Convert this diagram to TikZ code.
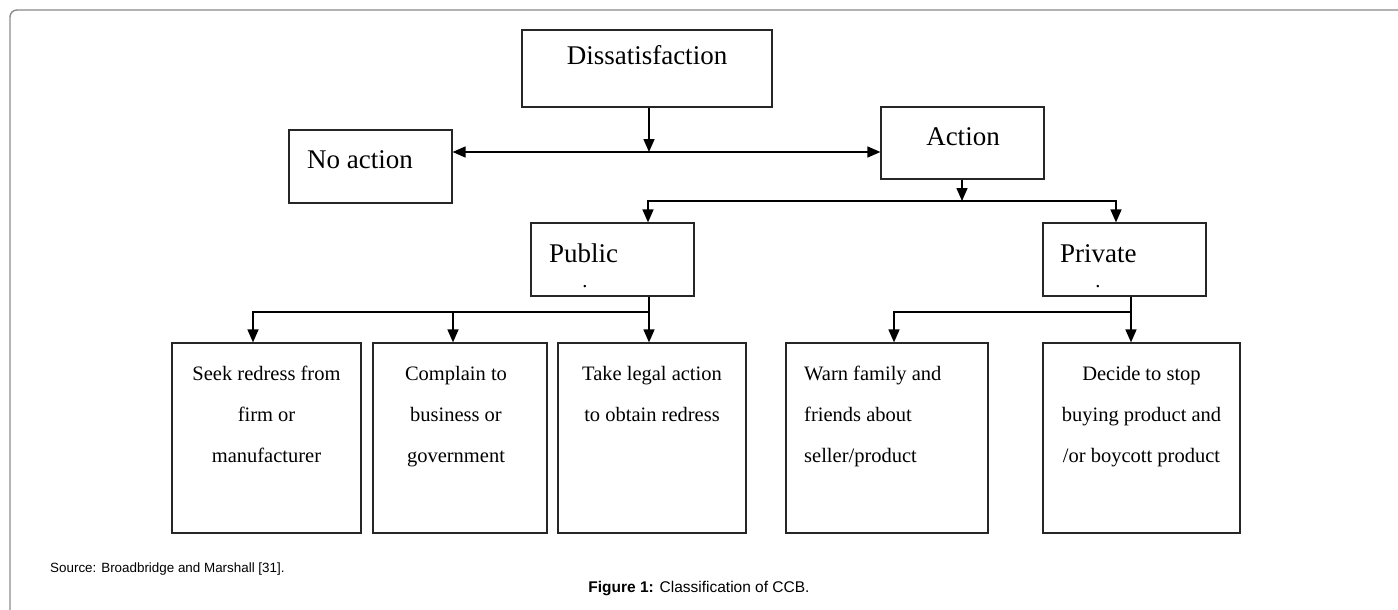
\documentclass[tikz,border=0pt]{standalone}
\usepackage{fontspec}
\setmainfont{Liberation Serif}
\newfontfamily\capfont{Liberation Sans}
\usetikzlibrary{arrows.meta}
\begin{document}
\begin{tikzpicture}[x=1pt,y=-1pt,
  box/.style={draw=black!85, line width=1.2pt, inner sep=0pt},
  big/.style={font=\fontsize{27}{32}\selectfont, inner sep=0pt},
  small/.style={font=\fontsize{20.5}{41}\selectfont, inner sep=0pt, align=center},
  conn/.style={line width=1.6pt},
  arr/.style={conn, -{Triangle[width=11pt,length=13pt]}},
  dbl/.style={conn, {Triangle[width=11pt,length=13pt]}-{Triangle[width=11pt,length=13pt]}},
  captxt/.style={font=\capfont\fontsize{13.4}{16}\selectfont, inner sep=0pt},
  figtxt/.style={font=\capfont\fontsize{15.5}{18}\selectfont, inner sep=0pt}
]
\useasboundingbox (0,0) rectangle (1398,610);
\fill[white] (0,0) rectangle (1398,610);
% frame
\draw[black!30, line width=1.8pt] (17,10) -- (1405,10);
\draw[black!45, line width=1.4pt] (10,615) -- (10,17) arc[start angle=180, end angle=90, radius=7pt];

% top level
\node[box, minimum width=250pt, minimum height=77pt] (diss) at (647,68.5) {};
\node[big, anchor=base] (dissT) at (647,65) {Dissatisfaction};
\node[box, minimum width=163pt, minimum height=73pt] (noact) at (370.5,166.5) {};
\node[big, anchor=base west] (noactT) at (307,168) {No action};
\node[box, minimum width=163pt, minimum height=72pt] (act) at (962.5,143) {};
\node[big, anchor=base] (actT) at (963,145) {Action};

% second level
\node[box, minimum width=163pt, minimum height=73pt] (pub) at (612.5,259.5) {};
\node[big, anchor=base west] (pubT) at (549,262) {Public};
\node[small, anchor=base] (pubD) at (585,287) {.};
\node[box, minimum width=163pt, minimum height=73pt] (priv) at (1124.5,259.5) {};
\node[big, anchor=base west] (privT) at (1060,262) {Private};
\node[small, anchor=base] (privD) at (1098,287) {.};

% third level
\node[box, minimum width=189pt, minimum height=190pt] (b1) at (266.5,438) {};
\node[box, minimum width=174pt, minimum height=190pt] (b2) at (460,438) {};
\node[box, minimum width=188pt, minimum height=190pt] (b3) at (652,438) {};
\node[box, minimum width=202pt, minimum height=190pt] (b4) at (887,438) {};
\node[box, minimum width=197pt, minimum height=190pt] (b5) at (1141.5,438) {};
\node[small, anchor=north] (b1T) at (266.5,366) {Seek redress from\\firm or\\manufacturer};
\node[small, anchor=north] (b2T) at (456,366) {Complain to\\business or\\government};
\node[small, anchor=north] (b3T) at (652,366) {Take legal action\\to obtain redress};
\node[small, align=left, anchor=north west] (b4T) at (804,366) {Warn family and\\friends about\\seller/product};
\node[small, anchor=north] (b5T) at (1141.5,366) {Decide to stop\\buying product and\\/or boycott product};

% connectors
\coordinate (j1) at (649,152);
\draw[arr] (diss.south -| j1) -- (j1);
\draw[dbl] (noact.east |- j1) -- (act.west |- j1);

\coordinate (j2) at (962,201);
\draw[arr] (act.south -| j2) -- (j2);
\draw[arr] (j2) -| ([xshift=35.5pt]pub.north);
\draw[arr] (j2) -| ([xshift=-8.5pt]priv.north);

\coordinate (j3) at (649,312);
\draw[arr] ([xshift=36.5pt]pub.south) -- ([xshift=-3pt]b3.north);
\draw[arr] (j3) -| ([xshift=-13.5pt]b1.north);
\draw[arr] ([xshift=-7pt]b2.north |- j3) -- ([xshift=-7pt]b2.north);

\coordinate (j4) at (1131,312);
\draw[arr] ([xshift=6.5pt]priv.south) -- ([xshift=-10.5pt]b5.north);
\draw[arr] (j4) -| ([xshift=7pt]b4.north);

% captions
\node[captxt, anchor=base west] (src) at (50,572) {Source: Broadbridge and Marshall [31].};
\node[figtxt, anchor=base] (cap) at (699,592) {\bfseries Figure 1:\mdseries{} Classification of CCB.};
\end{tikzpicture}
\end{document}
